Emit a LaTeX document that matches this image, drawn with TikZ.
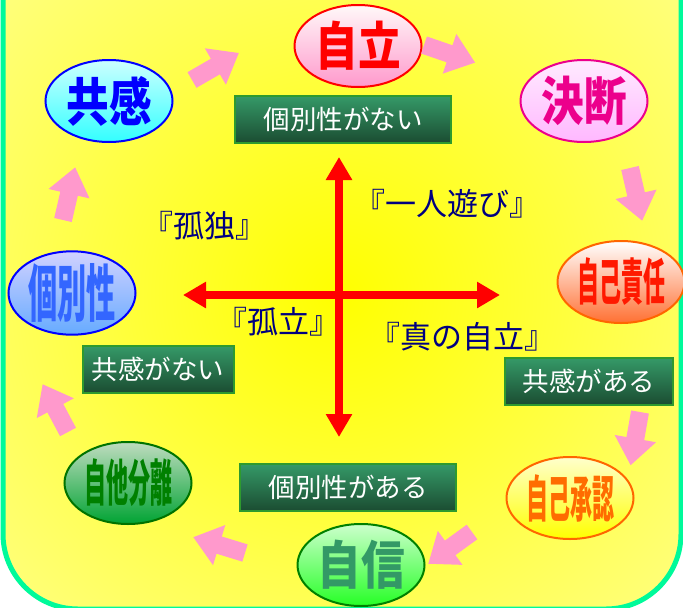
\documentclass[tikz,border=0pt]{standalone}
\usepackage{fontspec}
\usepackage{graphicx}
\newfontfamily\jp{Noto Sans CJK JP}
\usetikzlibrary{shapes.geometric,arrows.meta}

\definecolor{bgyellow}{HTML}{FFFF88}
\definecolor{rimgreen}{HTML}{00FA9A}
\definecolor{arrowpink}{HTML}{FF99CC}
\definecolor{navytext}{HTML}{000080}
\definecolor{boxtop}{HTML}{359A68}
\definecolor{boxbottom}{HTML}{1B4D32}
\definecolor{boxrim}{HTML}{2E9A2E}
\definecolor{seagreen}{HTML}{339966}
\definecolor{softblue}{HTML}{3366FF}

\tikzset{
  stage/.style={ellipse, line width=2pt, minimum width=127pt, minimum height=82pt,
    inner sep=0pt, font=\jp\bfseries\fontsize{52}{52}\selectfont},
  tag/.style={draw=boxrim, line width=2pt, top color=boxtop, bottom color=boxbottom,
    text=white, minimum height=47pt, inner sep=0pt, font=\jp\fontsize{26.5}{26.5}\selectfont},
  quad/.style={text=navytext, inner sep=0pt, font=\jp\fontsize{31}{31}\selectfont},
  axis/.style={red, line width=8pt, {Triangle[length=23pt,width=25pt]}-{Triangle[length=23pt,width=25pt]}},
  flowarrow/.pic={
    \fill[arrowpink] (0,-9) -- (27,-9) -- (27,-21) -- (54,0) -- (27,21) -- (27,9) -- (0,9) -- cycle;
  }
}

\begin{document}
\begin{tikzpicture}[x=1pt, y=-1pt]
  \useasboundingbox (0,0) rectangle (683,608);

  % background panel
  \begin{scope}
    \clip (0,0) rectangle (683,608);
    \fill[bgyellow, rounded corners=75pt] (3,-100) rectangle (681,609);
    \begin{scope}
      \clip[rounded corners=75pt] (3,-100) rectangle (681,609);
      \shade[inner color=yellow, outer color=bgyellow] (340,295) circle (500);
    \end{scope}
    \draw[rimgreen, line width=5pt, rounded corners=75pt] (3,-100) rectangle (681,609);
  \end{scope}

  % cross
  \coordinate (top) at (339,157);
  \coordinate (bottom) at (339,437);
  \coordinate (left) at (183,295);
  \coordinate (right) at (500,295);
  \draw[axis] (top) -- (bottom);
  \draw[axis] (left) -- (right);

  % quadrants
  \node[quad] (hitori) at (447,204) {『一人遊び』};
  \node[quad] (kodoku) at (204,226) {『孤独』};
  \node[quad] (koritsu) at (278,322) {『孤立』};
  \node[quad] (shin) at (462,337) {『真の自立』};

  % cycle
  \node[stage, draw=red, top color=white!90!pink, bottom color=arrowpink, text=red]
    (jiritsu) at (358,46) {\scalebox{0.82}[1]{自立}};
  \node[stage, draw=magenta, top color=white!92!magenta, bottom color=magenta!28!white, text=magenta]
    (ketsudan) at (584,101) {\scalebox{0.82}[1]{決断}};
  \node[stage, draw=orange!80!red, top color=white, bottom color=orange!60!red!80!white, text=red!80!orange]
    (sekinin) at (621,282) {\scalebox{0.44}[1]{\fontsize{50}{50}\selectfont 自己責任}};
  \node[stage, draw=orange!80!red, top color=yellow!20!white, bottom color=yellow, text=orange!85!red]
    (shonin) at (570,498) {\scalebox{0.44}[1]{\fontsize{50}{50}\selectfont 自己承認}};
  \node[stage, draw=green!50!black, top color=green!20!white, bottom color=green!85!white, text=seagreen]
    (jishin) at (361,565) {\scalebox{0.84}[1]{自信}};
  \node[stage, draw=green!45!black, top color=green!45!black!25!white, bottom color=green!55!black!80!cyan, text=green!50!black]
    (bunri) at (128,483) {\scalebox{0.44}[1]{\fontsize{50}{50}\selectfont 自他分離}};
  \node[stage, draw=blue, top color=blue!18!white, bottom color=blue!55!cyan!60!white, text=softblue]
    (kobetsu) at (72,293) {\scalebox{0.47}[1]{\fontsize{62}{62}\selectfont 個別性}};
  \node[stage, draw=blue, top color=cyan!20!white, bottom color=cyan!80!white, text=blue]
    (kyokan) at (109,101) {\scalebox{0.82}[1]{共感}};

  % tags
  \node[tag, minimum width=216pt] (nai1) at (343,119) {個別性がない};
  \node[tag, minimum width=151pt] (nai2) at (158,369) {共感がない};
  \node[tag, minimum width=168pt] (aru1) at (589,381) {共感がある};
  \node[tag, minimum width=216pt] (aru2) at (348,487) {個別性がある};

  % pink arrows
  \pic[rotate=30] at (192,80) {flowarrow};
  \pic[rotate=-19] at (424,45) {flowarrow};
  \pic[rotate=-77] at (630,168) {flowarrow};
  \pic[rotate=-100] at (640,412) {flowarrow};
  \pic[rotate=216] at (472,532) {flowarrow};
  \pic[rotate=163] at (245,553) {flowarrow};
  \pic[rotate=118] at (68,432) {flowarrow};
  \pic[rotate=77] at (63,220) {flowarrow};
\end{tikzpicture}
\end{document}
